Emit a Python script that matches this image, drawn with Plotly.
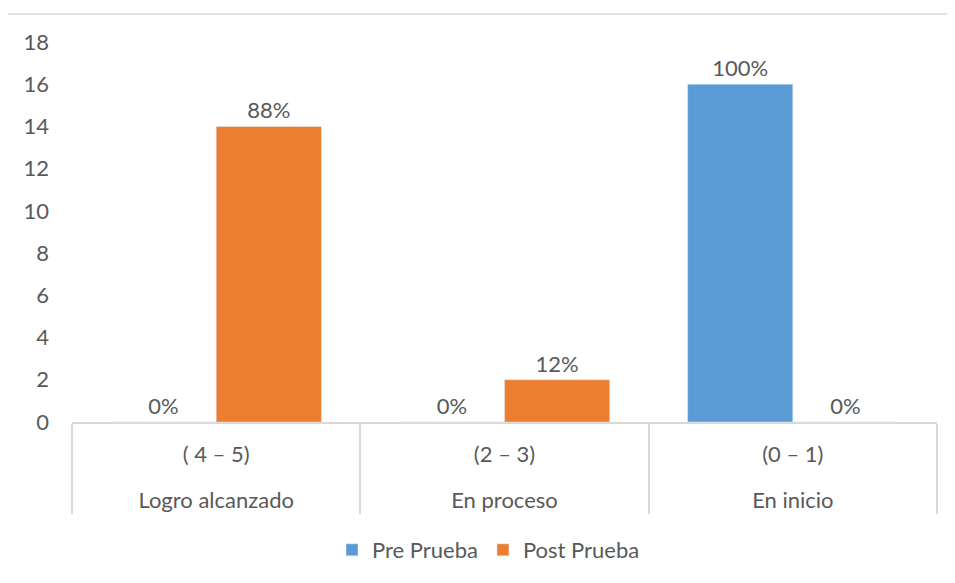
import plotly.graph_objects as go

niveles = ["( 4 – 5)", "(2 – 3)", "(0 – 1)"]
categorias = ["Logro alcanzado", "En proceso", "En inicio"]
pre_prueba = [0, 0, 16]
post_prueba = [14, 2, 0]
pre_pct = ["0%", "0%", "100%"]
post_pct = ["88%", "12%", "0%"]

FONT = "Lato, Open Sans, sans-serif"
GREY = "#595959"
LINE = "#D9D9D9"
FS = 22

# leading blank line gives the outer level its extra spacing
x = [[" <br>" + c for c in categorias], niveles]

fig = go.Figure()
for name, vals, pct, col in [("Pre Prueba", pre_prueba, pre_pct, "#5B9BD5"),
                             ("Post Prueba", post_prueba, post_pct, "#ED7D31")]:
    fig.add_trace(go.Bar(
        name=name, x=x, y=vals, marker_color=col,
        text=pct, textposition="outside",
        textfont=dict(size=FS, color=GREY, family=FONT), cliponaxis=False,
    ))

# page offset of the plotly div (body margin)
OFF = 8
W, H = 955 - OFF, 583 - OFF
L, R, T, B = 72 - OFF, 18, 42 - OFF, 161
pw, ph = W - L - R, H - T - B

fig.update_layout(
    width=W, height=H,
    margin=dict(l=L, r=R, t=T, b=B),
    paper_bgcolor="white", plot_bgcolor="white",
    barmode="group", bargap=0.27, bargroupgap=0,
    font=dict(family=FONT, size=FS, color=GREY),
    showlegend=True,
    legend=dict(orientation="h", x=0.5 - 16 / pw, xanchor="center",
                y=(422 - 550) / ph, yanchor="middle",
                font=dict(size=FS, color=GREY), itemwidth=30),
)
fig.update_xaxes(
    type="multicategory", showline=True, linecolor=LINE, linewidth=1.5,
    showdividers=True, dividercolor=LINE, dividerwidth=1.5,
    showgrid=False, zeroline=False, tickfont=dict(size=FS, color=GREY),
    ticklabelstandoff=12,
)
fig.update_yaxes(
    range=[0, 18], dtick=2, showgrid=False, zeroline=False, showline=False,
    ticklabelstandoff=22, tickfont=dict(size=FS, color=GREY),
)
fig.add_shape(
    type="rect", xref="paper", yref="paper",
    x0=(7 - 72) / pw, x1=(975 - 72) / pw,
    y0=(422 - 600) / ph, y1=(422 - 14) / ph,
    line=dict(color=LINE, width=1.5), fillcolor="rgba(0,0,0,0)", layer="below",
)
fig.write_html("out.html")
